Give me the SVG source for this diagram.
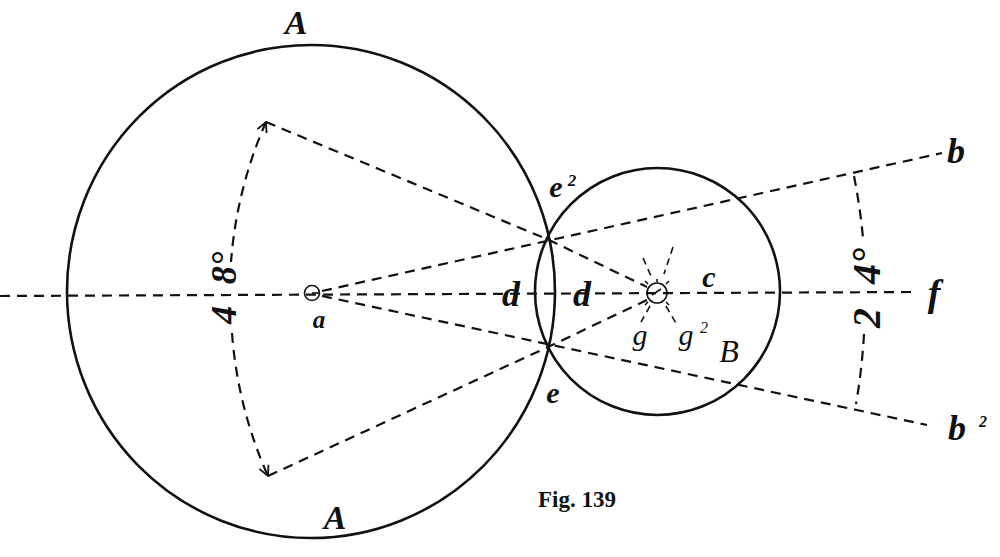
<svg xmlns="http://www.w3.org/2000/svg" width="1000" height="557" viewBox="0 0 1000 557">
<style>
.circ{fill:none;stroke:#111;stroke-width:2.6}
.dash{fill:none;stroke:#111;stroke-width:2.2;stroke-dasharray:10 7}
.sdash{fill:none;stroke:#111;stroke-width:1.6;stroke-dasharray:7 5}
.tick{fill:none;stroke:#111;stroke-width:1.6}
.lbl{font-family:"Liberation Serif","DejaVu Serif",serif;font-style:italic;font-weight:bold;fill:#111}
.num{font-family:"Liberation Serif","DejaVu Serif",serif;font-style:italic;fill:#111}
.fig{font-family:"Liberation Serif","DejaVu Serif",serif;font-weight:bold;fill:#111}
</style>
<defs>
<marker id="arr" viewBox="0 0 12 12" refX="11" refY="6" markerWidth="12" markerHeight="12" markerUnits="userSpaceOnUse" orient="auto-start-reverse">
<path d="M1 1 L11 6 L1 11" fill="none" stroke="#111" stroke-width="1.8" stroke-dasharray="none"/>
</marker>
</defs>
<rect width="1000" height="557" fill="#fff"/>

<g id="circleA">
<ellipse class="circ" cx="311" cy="291.5" rx="244" ry="246.5"/>
</g>
<g id="circleB">
<ellipse class="circ" cx="657.5" cy="291.5" rx="122.5" ry="123.5"/>
</g>
<g id="centerA">
<circle class="tick" cx="312" cy="293" r="7.5" stroke-width="2.2"/>
<line class="tick" x1="312" y1="293" x2="320" y2="293"/>
</g>
<g id="centerG">
<circle class="tick" cx="657" cy="293" r="10" stroke-width="2.2"/>
<line class="tick" x1="652" y1="295" x2="661" y2="289"/>
<line class="tick" x1="648" y1="284" x2="645" y2="281"/>
<line class="tick" x1="666" y1="284" x2="669" y2="281"/>
<line class="tick" x1="648" y1="302" x2="645" y2="305"/>
<line class="tick" x1="666" y1="302" x2="669" y2="305"/>
<line class="tick" x1="657" y1="282" x2="657" y2="279"/>
</g>

<g id="connectors">
<line class="dash" x1="0" y1="296" x2="915" y2="292"/>
<line class="dash" x1="322" y1="291" x2="942" y2="153"/>
<line class="dash" x1="322" y1="296" x2="927" y2="425"/>
<polyline class="dash" points="266,122 549,240 647,287"/>
<polyline class="dash" points="268,476 548,347 647,300"/>
<line class="sdash" x1="643" y1="258" x2="651" y2="276"/>
<line class="sdash" x1="673" y1="247" x2="664" y2="274"/>
<line class="sdash" x1="650" y1="306" x2="641" y2="322"/>
<line class="sdash" x1="666" y1="306" x2="677" y2="325"/>
<path class="dash" d="M266 122 A427 427 0 0 0 231 262" marker-start="url(#arr)"/>
<path class="dash" d="M232 333 A427 427 0 0 0 268 476" marker-end="url(#arr)"/>
<path class="dash" d="M854 176 A620 620 0 0 1 863 238"/>
<path class="dash" d="M864 334 A620 620 0 0 1 856 404"/>
</g>

<g id="labels">
<text class="lbl" x="296" y="34" font-size="34" text-anchor="middle">A</text>
<text class="lbl" x="335" y="529" font-size="34" text-anchor="middle">A</text>
<text class="fig" x="577" y="507" font-size="23" text-anchor="middle">Fig. 139</text>
<text class="lbl" x="319" y="328" font-size="25" text-anchor="middle">a</text>
<text class="lbl" x="556" y="197" font-size="30" font-style="normal" text-anchor="middle">e</text>
<text class="lbl" x="572" y="186" font-size="17" font-style="normal" text-anchor="middle">2</text>
<text class="lbl" x="553" y="403" font-size="30" font-style="normal" text-anchor="middle">e</text>
<text class="lbl" x="511" y="306" font-size="36" text-anchor="middle">d</text>
<text class="lbl" x="582" y="306" font-size="36" text-anchor="middle">d</text>
<text class="lbl" x="709" y="287" font-size="30" text-anchor="middle">c</text>
<text class="num" x="640" y="345" font-size="30" text-anchor="middle">g</text>
<text class="num" x="686" y="345" font-size="30" text-anchor="middle">g</text>
<text class="num" x="704" y="333" font-size="16" text-anchor="middle">2</text>
<text class="num" x="729" y="362" font-size="32" text-anchor="middle">B</text>
<text class="lbl" x="956" y="163" font-size="36" text-anchor="middle">b</text>
<text class="lbl" x="957" y="440" font-size="36" text-anchor="middle">b</text>
<text class="lbl" x="983" y="427" font-size="16" font-style="normal" text-anchor="middle">2</text>
<text class="lbl" x="934" y="306" font-size="38" text-anchor="middle">f</text>
<text class="num" transform="translate(236,315) rotate(-90)" font-size="36" font-weight="bold" text-anchor="middle">4</text>
<text class="num" transform="translate(236,268) rotate(-90)" font-size="36" font-weight="bold" text-anchor="middle">8°</text>
<text class="num" transform="translate(880,318) rotate(-90)" font-size="40" font-weight="bold" text-anchor="middle">2</text>
<text class="num" transform="translate(880,266) rotate(-90)" font-size="40" font-weight="bold" text-anchor="middle">4°</text>
</g>
</svg>
